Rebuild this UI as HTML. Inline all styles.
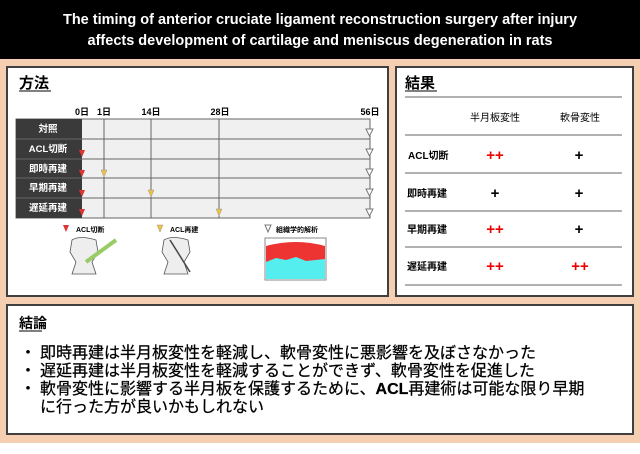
<!DOCTYPE html><html><head><meta charset="utf-8"><style>body{margin:0;width:640px;height:449px;overflow:hidden;background:#fff}text{font-family:"Liberation Sans","Noto Sans CJK JP",sans-serif}</style></head><body>
<svg width="640" height="449" xmlns="http://www.w3.org/2000/svg">
<rect x="0" y="0" width="640" height="443" fill="#f6cfb3"/>
<rect x="0" y="0" width="640" height="59" fill="#000"/>
<text x="320" y="24" fill="#fff" font-size="14.5" font-weight="bold" text-anchor="middle">The timing of anterior cruciate ligament reconstruction surgery after injury</text>
<text x="320" y="45" fill="#fff" font-size="14.5" font-weight="bold" text-anchor="middle">affects development of cartilage and meniscus degeneration in rats</text>
<rect x="7" y="67" width="381" height="229" fill="#fff" stroke="#404040" stroke-width="2"/>
<rect x="396" y="67" width="237" height="229" fill="#fff" stroke="#404040" stroke-width="2"/>
<rect x="7" y="305" width="626" height="129" fill="#fff" stroke="#404040" stroke-width="2"/>
<text x="19" y="88" font-size="15" font-weight="bold">方法</text><line x1="19" y1="91" x2="51" y2="91" stroke="#000"/>
<text x="405" y="88" font-size="15" font-weight="bold">結果</text><line x1="405" y1="91" x2="437" y2="91" stroke="#000"/>
<text x="19" y="328" font-size="14" font-weight="bold">結論</text><line x1="19" y1="331" x2="42" y2="331" stroke="#000"/>
<g font-size="9" font-weight="bold" text-anchor="middle"><text x="82" y="115">0日</text><text x="104" y="115">1日</text><text x="151" y="115">14日</text><text x="220" y="115">28日</text><text x="370" y="115">56日</text></g>
<rect x="16" y="119" width="354" height="99" fill="#f0f0f0" stroke="#666"/>
<rect x="16" y="119" width="66" height="99" fill="#3a3a3a"/>
<g stroke="#666"><line x1="16" y1="139" x2="370" y2="139"/><line x1="16" y1="159" x2="370" y2="159"/><line x1="16" y1="178" x2="370" y2="178"/><line x1="16" y1="198" x2="370" y2="198"/>
<line x1="104" y1="119" x2="104" y2="218"/><line x1="151" y1="119" x2="151" y2="218"/><line x1="219" y1="119" x2="219" y2="218"/><line x1="370" y1="119" x2="370" y2="218"/></g>
<g fill="#fff" font-size="9.5" font-weight="bold" text-anchor="middle"><text x="48" y="132">対照</text><text x="48" y="152">ACL切断</text><text x="48" y="172">即時再建</text><text x="48" y="191">早期再建</text><text x="48" y="211">遅延再建</text></g>
<g fill="#d33"><path d="M79,150h6l-3,7z"/><path d="M79,170h6l-3,7z"/><path d="M79,190h6l-3,7z"/><path d="M79,209h6l-3,7z"/><path d="M63,225h6l-3,7z"/></g>
<g fill="#f0c040" stroke="#999" stroke-width=".5"><path d="M101,170h6l-3,7z"/><path d="M148,190h6l-3,7z"/><path d="M216,209h6l-3,7z"/><path d="M157,225h6l-3,7z"/></g>
<g fill="#fff" stroke="#777"><path d="M366,129h7l-3.5,7z"/><path d="M366,149h7l-3.5,7z"/><path d="M366,169h7l-3.5,7z"/><path d="M366,189h7l-3.5,7z"/><path d="M366,209h7l-3.5,7z"/><path d="M265,225h6l-3,7z"/></g>
<g font-size="7" font-weight="bold"><text x="76" y="232">ACL切断</text><text x="170" y="232">ACL再建</text><text x="276" y="232">組織学的解析</text></g>
<g fill="#eee" stroke="#555" stroke-width=".8"><path d="M72,240q8,-5 24,0l2,12l-6,10l4,12h-24l4,-12l-6,-10z"/><path d="M164,240q8,-5 24,0l2,12l-6,10l4,12h-24l4,-12l-6,-10z"/></g>
<line x1="86" y1="262" x2="116" y2="240" stroke="#9c6" stroke-width="4"/>
<line x1="170" y1="240" x2="190" y2="272" stroke="#444" stroke-width="1.5"/>
<rect x="265" y="238" width="61" height="42" fill="#fff" stroke="#888"/>
<path d="M266,246q30,-8 59,0v24h-59z" fill="#e33"/><path d="M266,262l10,-4l10,2l10,-3l10,4l19,-2v20h-59z" fill="#5ee"/>
<g stroke="#666"><line x1="405" y1="97" x2="622" y2="97"/><line x1="405" y1="135" x2="622" y2="135"/><line x1="405" y1="173" x2="622" y2="173"/><line x1="405" y1="211" x2="622" y2="211"/><line x1="405" y1="247" x2="622" y2="247"/><line x1="405" y1="285" x2="622" y2="285"/></g>
<g font-size="10" text-anchor="middle"><text x="495" y="121">半月板変性</text><text x="580" y="121">軟骨変性</text></g>
<g font-size="10" font-weight="bold"><text x="408" y="159">ACL切断</text><text x="407" y="197">即時再建</text><text x="407" y="233">早期再建</text><text x="407" y="270">遅延再建</text></g>
<g font-size="15" font-weight="bold" text-anchor="middle"><text x="495" y="160" fill="#e00">++</text><text x="579" y="160">+</text><text x="495" y="198">+</text><text x="579" y="198">+</text><text x="495" y="234" fill="#e00">++</text><text x="579" y="234">+</text><text x="495" y="271" fill="#e00">++</text><text x="580" y="271" fill="#e00">++</text></g>
<g font-size="16" stroke="#000" stroke-width=".25"><text x="20" y="358">・</text><text x="40" y="358">即時再建は半月板変性を軽減し、軟骨変性に悪影響を及ぼさなかった</text>
<text x="20" y="376">・</text><text x="40" y="376">遅延再建は半月板変性を軽減することができず、軟骨変性を促進した</text>
<text x="20" y="394">・</text><text x="40" y="394">軟骨変性に影響する半月板を保護するために、<tspan font-weight="bold">ACL</tspan>再建術は可能な限り早期</text>
<text x="40" y="412">に行った方が良いかもしれない</text></g>
</svg></body></html>
